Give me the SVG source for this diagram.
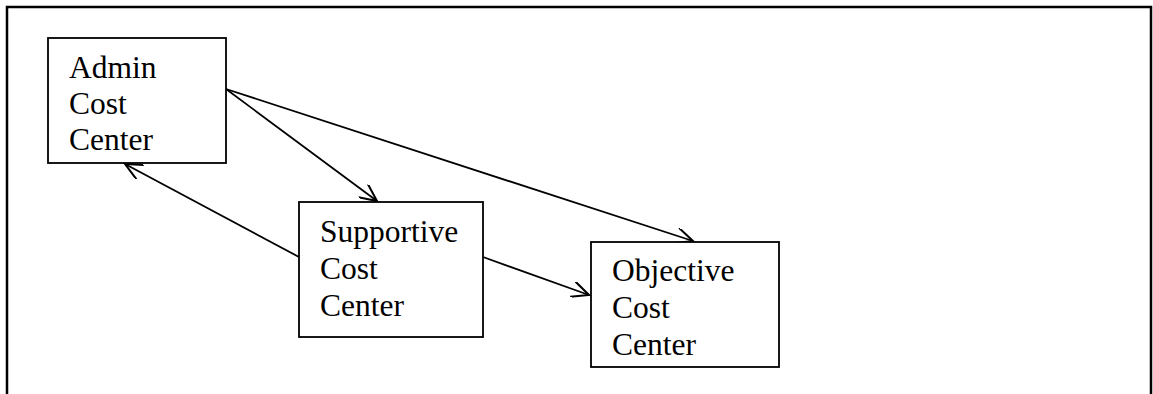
<svg xmlns="http://www.w3.org/2000/svg" width="1153" height="394" viewBox="0 0 1153 394">
  <style>
    .frame { fill: none; stroke: #000; stroke-width: 2.5; }
    .box { fill: #fff; stroke: #000; stroke-width: 1.8; }
    .label { font-family: 'Liberation Serif', 'Times New Roman', Times, serif; font-size: 31.5px; fill: #000; }
    .edge { fill: none; stroke: #000; stroke-width: 1.8; marker-end: url(#open-arrow); }
  </style>
  <defs>
    <marker id="open-arrow" markerUnits="userSpaceOnUse" markerWidth="20" markerHeight="16" viewBox="0 0 16 14" refX="15" refY="7" orient="auto">
      <path d="M0,0 L15,7 L0,14" fill="none" stroke="#000" stroke-width="1.8"/>
    </marker>
  </defs>

  <rect width="1153" height="394" fill="#fff"/>
  <!-- outer frame, open at the bottom -->
  <path class="frame" d="M7,394 V7 H1151 V394"/>

  <g id="connectors">
    <line class="edge" x1="226" y1="89" x2="377" y2="201"/>
    <line class="edge" x1="226" y1="89" x2="693" y2="241"/>
    <line class="edge" x1="483" y1="257" x2="589" y2="295"/>
    <line class="edge" x1="299" y1="257" x2="125" y2="164"/>
  </g>

  <g id="admin">
    <rect class="box" x="48" y="38" width="178" height="125"/>
    <text class="label" x="69" y="78">Admin</text>
    <text class="label" x="69" y="114">Cost</text>
    <text class="label" x="69" y="150">Center</text>
  </g>

  <g id="supportive">
    <rect class="box" x="299" y="202" width="184" height="135"/>
    <text class="label" x="320" y="242">Supportive</text>
    <text class="label" x="320" y="279">Cost</text>
    <text class="label" x="320" y="316">Center</text>
  </g>

  <g id="objective">
    <rect class="box" x="591" y="242" width="188" height="125"/>
    <text class="label" x="612" y="281">Objective</text>
    <text class="label" x="612" y="318">Cost</text>
    <text class="label" x="612" y="355">Center</text>
  </g>
</svg>
